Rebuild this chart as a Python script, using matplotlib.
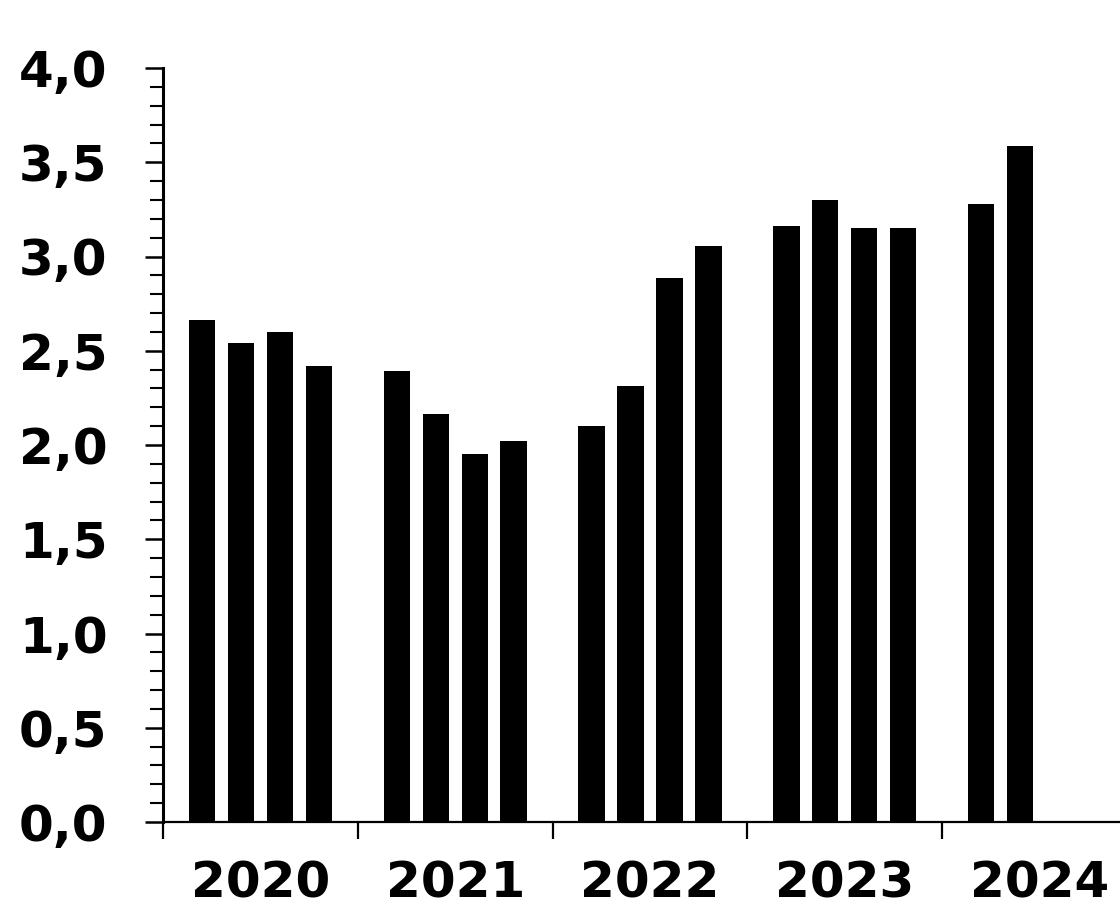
import matplotlib
matplotlib.use("Agg")
import matplotlib.pyplot as plt
from matplotlib.ticker import MultipleLocator, FixedLocator, NullFormatter

years = ["2020", "2021", "2022", "2023", "2024"]
values_2020 = [2.665, 2.543, 2.601, 2.421]
values_2021 = [2.395, 2.167, 1.950, 2.019]
values_2022 = [2.103, 2.315, 2.887, 3.057]
values_2023 = [3.163, 3.301, 3.152, 3.152]
values_2024 = [3.279, 3.587]
yticks = [0.0, 0.5, 1.0, 1.5, 2.0, 2.5, 3.0, 3.5, 4.0]
ytick_labels = ["0,0", "0,5", "1,0", "1,5", "2,0", "2,5", "3,0", "3,5", "4,0"]

series = [values_2020, values_2021, values_2022, values_2023, values_2024]

plt.rcParams['font.family'] = ['DejaVu Sans']

fig = plt.figure(figsize=(11.2, 9.06), dpi=100)
ax = fig.add_axes([163/1120, 84/906, (1137-163)/1120, 754/906])

xs, hs = [], []
for gi, vals in enumerate(series):
    for qi, v in enumerate(vals):
        xs.append(gi + 0.2 * (qi + 1))
        hs.append(v)
ax.bar(xs, hs, width=0.135, color="black", edgecolor="none")

ax.set_xlim(0, 5)
ax.set_ylim(0, 4)

for s in ["top", "right"]:
    ax.spines[s].set_visible(False)
ax.spines["left"].set_linewidth(2.2)
ax.spines["bottom"].set_linewidth(1.6)

ax.set_yticks(yticks)
ax.set_yticklabels(ytick_labels, fontsize=36, fontweight="bold")
ax.yaxis.set_minor_locator(MultipleLocator(0.1))
ax.tick_params(axis="y", which="major", length=13, width=1.8, pad=27, direction="out")
ax.tick_params(axis="y", which="minor", length=9.4, width=1.5, direction="out")

ax.xaxis.set_major_locator(FixedLocator([0, 1, 2, 3, 4, 5]))
ax.xaxis.set_major_formatter(NullFormatter())
ax.xaxis.set_minor_locator(FixedLocator([0.5, 1.5, 2.5, 3.5, 4.5]))
ax.set_xticklabels(years, minor=True, fontsize=36, fontweight="bold")
ax.tick_params(axis="x", which="major", length=12, width=1.6, direction="out")
ax.tick_params(axis="x", which="minor", length=0, pad=27)

fig.savefig("out.png", dpi=100)
